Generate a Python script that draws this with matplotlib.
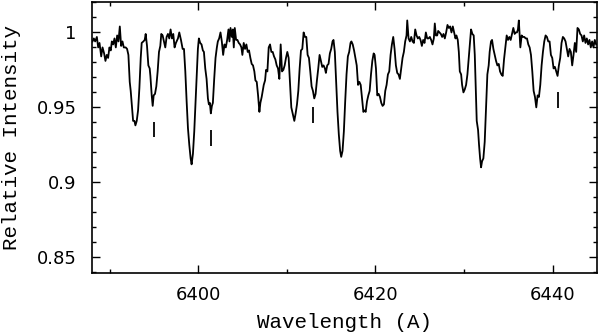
"""
Spectrum plot: relative intensity vs wavelength with line markers.
Writes out.png (600x335).
"""

import numpy as np
import matplotlib
matplotlib.use("Agg")
import matplotlib.pyplot as plt
from matplotlib.ticker import MultipleLocator

wavelength = [
    6388.08, 6388.23, 6388.38, 6388.57, 6388.72, 6388.87, 6389.06, 6389.21, 6389.39, 6389.54,
    6389.69, 6389.84, 6389.99, 6390.14, 6390.26, 6390.41, 6390.56, 6390.71, 6390.86, 6391.01,
    6391.16, 6391.31, 6391.46, 6391.61, 6391.83, 6391.98, 6392.13, 6392.28, 6392.39, 6392.51,
    6392.66, 6392.81, 6392.92, 6393.07, 6393.22, 6393.37, 6393.52, 6393.63, 6393.82, 6393.97,
    6394.08, 6394.23, 6394.38, 6394.53, 6394.61, 6394.76, 6394.87, 6394.98, 6395.13, 6395.28,
    6395.43, 6395.58, 6395.73, 6395.84, 6395.99, 6396.14, 6396.29, 6396.44, 6396.59, 6396.74,
    6396.89, 6397.04, 6397.19, 6397.34, 6397.49,
    6397.72, 6397.87, 6398.06, 6398.25, 6398.40, 6398.55, 6398.70, 6398.85, 6399.00, 6399.15,
    6399.26, 6399.41, 6399.56, 6399.71, 6399.86, 6399.97, 6400.08, 6400.23, 6400.38, 6400.53,
    6400.65, 6400.80, 6400.95, 6401.10, 6401.21, 6401.32, 6401.43, 6401.55, 6401.66, 6401.81,
    6401.96, 6402.11, 6402.22, 6402.37, 6402.52, 6402.67, 6402.82, 6402.97, 6403.12, 6403.27,
    6403.42, 6403.53, 6403.65, 6403.80, 6403.91, 6404.02, 6404.13, 6404.28, 6404.43, 6404.58,
    6404.73, 6404.88, 6404.99, 6405.14, 6405.29, 6405.44, 6405.59, 6405.74, 6405.89, 6406.04,
    6406.19, 6406.34, 6406.46, 6406.61, 6406.76, 6406.91, 6407.02, 6407.17,
    6407.40, 6407.55, 6407.66, 6407.81, 6407.96, 6408.11, 6408.26, 6408.41, 6408.56, 6408.71,
    6408.86, 6409.01, 6409.16, 6409.31, 6409.46, 6409.61, 6409.76, 6409.91, 6410.06, 6410.21,
    6410.36, 6410.51, 6410.66, 6410.85, 6411.00, 6411.15, 6411.30, 6411.45, 6411.60, 6411.75,
    6411.90, 6412.05, 6412.20, 6412.35, 6412.50, 6412.65, 6412.80, 6412.95, 6413.10, 6413.25,
    6413.40, 6413.55, 6413.70, 6413.85, 6414.00, 6414.15, 6414.30, 6414.41, 6414.56, 6414.71,
    6414.86, 6415.01, 6415.16, 6415.27, 6415.42, 6415.57, 6415.72, 6415.87, 6416.02, 6416.14,
    6416.29, 6416.44, 6416.59, 6416.74, 6416.89, 6417.04, 6417.19,
    6417.29, 6417.44, 6417.59, 6417.74, 6417.89, 6418.04, 6418.19, 6418.34, 6418.49, 6418.64,
    6418.79, 6418.90, 6419.05, 6419.20, 6419.35, 6419.50, 6419.65, 6419.80, 6419.91, 6420.06,
    6420.21, 6420.36, 6420.51, 6420.66, 6420.81, 6420.96, 6421.11, 6421.26, 6421.41, 6421.56,
    6421.71, 6421.86, 6422.01, 6422.16, 6422.31, 6422.46, 6422.61, 6422.76, 6422.91, 6423.06,
    6423.21, 6423.36, 6423.51, 6423.59, 6423.74, 6423.89, 6424.04, 6424.19, 6424.34, 6424.49,
    6424.64, 6424.79, 6424.94, 6425.09, 6425.24, 6425.39, 6425.54, 6425.69, 6425.84, 6425.99,
    6426.14, 6426.29, 6426.44, 6426.59, 6426.70, 6426.82, 6426.97,
    6427.08, 6427.23, 6427.38, 6427.53, 6427.68, 6427.83, 6427.98, 6428.13, 6428.28, 6428.43,
    6428.58, 6428.73, 6428.88, 6429.03, 6429.14, 6429.29, 6429.41, 6429.52, 6429.67, 6429.78,
    6429.93, 6430.08, 6430.23, 6430.38, 6430.53, 6430.68, 6430.79, 6430.94, 6431.09, 6431.21,
    6431.32, 6431.43, 6431.58, 6431.69, 6431.81, 6431.92, 6432.03, 6432.18, 6432.33, 6432.48,
    6432.63, 6432.78, 6432.89, 6433.04, 6433.16, 6433.31, 6433.46, 6433.61, 6433.76, 6433.91,
    6434.06, 6434.21, 6434.36, 6434.51, 6434.66, 6434.81, 6434.96, 6435.11, 6435.26, 6435.41,
    6435.56, 6435.71,
    6435.82, 6435.97, 6436.08, 6436.18, 6436.35, 6436.50, 6436.65, 6436.80, 6436.95, 6437.10,
    6437.25, 6437.40, 6437.55, 6437.70, 6437.85, 6438.00, 6438.15, 6438.30, 6438.45, 6438.60,
    6438.75, 6438.90, 6439.05, 6439.20, 6439.35, 6439.50, 6439.65, 6439.80, 6439.95, 6440.10,
    6440.25, 6440.40, 6440.55, 6440.70, 6440.85, 6441.00, 6441.15, 6441.30, 6441.45, 6441.60,
    6441.75, 6441.90, 6442.05, 6442.20, 6442.35, 6442.50, 6442.65, 6442.80, 6442.95, 6443.10,
    6443.25, 6443.40, 6443.55, 6443.70, 6443.85, 6444.00, 6444.15, 6444.30, 6444.45, 6444.60,
    6444.75, 6444.90,
]
flux = [
    0.994, 0.996, 0.994, 0.997, 0.990, 0.993, 0.984, 0.990, 0.986, 0.981,
    0.985, 0.983, 0.990, 0.988, 0.994, 0.992, 0.996, 0.990, 0.998, 0.994,
    1.004, 0.991, 0.994, 0.990, 0.990, 0.989, 0.985, 0.967, 0.961, 0.952,
    0.941, 0.941, 0.938, 0.941, 0.948, 0.963, 0.983, 0.993, 0.994, 0.995,
    0.999, 0.991, 0.978, 0.976, 0.971, 0.958, 0.951, 0.958, 0.959, 0.964,
    0.974, 0.987, 0.991, 0.999, 0.998, 0.994, 0.990, 0.997, 0.999, 0.996,
    1.002, 0.996, 0.999, 0.990, 0.993,
    0.996, 1.000, 0.995, 0.989, 0.989, 0.974, 0.954, 0.936, 0.925, 0.916,
    0.912, 0.919, 0.934, 0.954, 0.974, 0.989, 0.996, 0.993, 0.992, 0.988,
    0.987, 0.976, 0.969, 0.956, 0.952, 0.953, 0.946, 0.951, 0.953, 0.969,
    0.983, 0.990, 0.994, 0.996, 1.000, 0.994, 0.985, 0.992, 0.990, 0.995,
    1.002, 0.994, 1.003, 0.997, 1.002, 0.990, 1.003, 0.995, 0.995, 0.993,
    0.992, 0.990, 0.985, 0.993, 0.989, 0.992, 0.987, 0.988, 0.983, 0.979,
    0.978, 0.974, 0.968, 0.967, 0.958, 0.947, 0.953, 0.957,
    0.965, 0.968, 0.975, 0.974, 0.990, 0.992, 0.987, 0.987, 0.984, 0.982,
    0.978, 0.976, 0.969, 0.992, 0.974, 0.975, 0.978, 0.983, 0.987, 0.983,
    0.967, 0.950, 0.946, 0.941, 0.946, 0.952, 0.961, 0.976, 0.988, 0.989,
    1.000, 0.997, 0.997, 0.985, 0.983, 0.974, 0.964, 0.961, 0.956, 0.959,
    0.968, 0.976, 0.985, 0.981, 0.977, 0.978, 0.976, 0.973, 0.978, 0.979,
    0.986, 0.989, 0.994, 0.995, 0.987, 0.967, 0.947, 0.932, 0.921, 0.917,
    0.921, 0.934, 0.954, 0.972, 0.984, 0.987, 0.993,
    0.994, 0.992, 0.988, 0.983, 0.978, 0.965, 0.967, 0.965, 0.956, 0.947,
    0.948, 0.947, 0.954, 0.958, 0.961, 0.972, 0.981, 0.986, 0.985, 0.976,
    0.958, 0.959, 0.957, 0.953, 0.951, 0.952, 0.961, 0.965, 0.972, 0.974,
    0.985, 0.992, 0.997, 0.989, 0.978, 0.973, 0.972, 0.969, 0.976, 0.983,
    0.987, 0.994, 0.998, 1.008, 0.996, 0.994, 0.997, 0.994, 0.993, 1.002,
    0.998, 0.996, 0.997, 0.995, 0.991, 0.995, 0.993, 1.000, 0.996, 0.996,
    0.997, 0.995, 0.992, 0.996, 1.006, 0.998, 0.998,
    1.001, 1.000, 0.999, 0.997, 0.999, 0.996, 1.000, 1.005, 1.003, 1.004,
    1.000, 1.004, 1.000, 0.996, 0.998, 0.995, 0.987, 0.974, 0.972, 0.965,
    0.960, 0.962, 0.965, 0.972, 0.983, 0.994, 1.002, 0.999, 0.998, 0.985,
    0.963, 0.941, 0.935, 0.925, 0.916, 0.910, 0.914, 0.916, 0.927, 0.950,
    0.972, 0.978, 0.987, 0.994, 0.995, 0.989, 0.985, 0.981, 0.978, 0.979,
    0.974, 0.972, 0.971, 0.982, 0.990, 0.998, 0.995, 0.997, 0.995, 0.999,
    1.003, 0.999,
    1.000, 1.000, 1.002, 1.008, 0.990, 0.998, 0.997, 0.997, 0.996, 0.996,
    0.992, 0.990, 0.985, 0.974, 0.961, 0.957, 0.950, 0.958, 0.957, 0.965,
    0.978, 0.987, 0.994, 0.998, 0.997, 0.994, 0.994, 0.985, 0.983, 0.976,
    0.977, 0.974, 0.971, 0.978, 0.983, 0.993, 0.997, 0.996, 0.994, 0.989,
    0.984, 0.989, 0.987, 0.978, 0.985, 0.993, 0.987, 1.003, 1.002, 0.999,
    0.998, 0.994, 0.998, 0.993, 0.996, 0.992, 0.995, 0.990, 0.994, 0.990,
    0.995, 0.992,
]

# identified lines: short vertical markers (wavelength, bottom, top)
mark_wl = [6395.05, 6401.5, 6413.0, 6440.65]
mark_lo = [0.930, 0.9245, 0.9395, 0.9495]
mark_hi = [0.940, 0.935, 0.950, 0.960]

plt.rcParams["font.family"] = "DejaVu Sans"

fig = plt.figure(figsize=(6.0, 3.35), dpi=100)
ax = fig.add_axes([0.153, 0.185, 0.842, 0.809])

ax.plot(wavelength, flux, color="black", linewidth=1.3)
ax.vlines(mark_wl, mark_lo, mark_hi, color="black", linewidth=1.3)

ax.set_xlim(6388.0, 6445.0)
ax.set_ylim(0.8395, 1.0203)

ax.xaxis.set_major_locator(MultipleLocator(20))
ax.xaxis.set_minor_locator(MultipleLocator(10))
ax.yaxis.set_major_locator(MultipleLocator(0.05))
ax.yaxis.set_minor_locator(MultipleLocator(0.01))
ax.yaxis.set_major_formatter(plt.FuncFormatter(lambda v, p: f"{v:g}"))

ax.tick_params(which="both", direction="in", top=True, right=True,
               width=1.0, labelsize=13)
ax.tick_params(axis="x", which="major", length=6, pad=9)
ax.tick_params(axis="y", which="major", length=6, pad=11)
ax.tick_params(which="minor", length=3)
for s in ax.spines.values():
    s.set_linewidth(1.2)

label_font = {"family": "Liberation Mono", "size": 15}
ax.set_xlabel("Wavelength (A)", fontdict=label_font, labelpad=7)
ax.set_ylabel("Relative Intensity", fontdict=label_font, labelpad=11)

fig.savefig("out.png", dpi=100)
